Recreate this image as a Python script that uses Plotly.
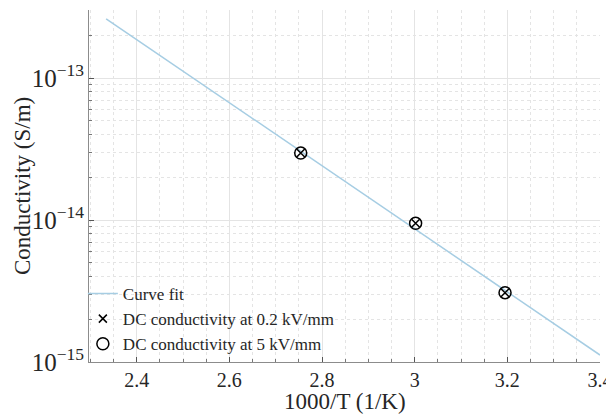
import plotly.graph_objects as go

# Arrhenius fit and measured DC conductivity
fit_x = [2.334, 3.4]
fit_y = [2.62e-13, 1.12e-15]
meas_x = [2.754, 3.002, 3.195]
cond_02 = [2.97e-14, 9.5e-15, 3.08e-15]
cond_5 = [2.97e-14, 9.5e-15, 3.08e-15]

FONT = "Liberation Serif"
TXT = "#262626"

fig = go.Figure()
fig.add_trace(
    go.Scatter(
        x=fit_x,
        y=fit_y,
        mode="lines",
        name="Curve fit",
        line=dict(color="#a6cde3", width=1.5),
    )
)
fig.add_trace(
    go.Scatter(
        x=meas_x,
        y=cond_02,
        mode="markers",
        name="DC conductivity at 0.2 kV/mm",
        marker=dict(symbol="x-thin", size=8, line=dict(color="black", width=1.5)),
    )
)
fig.add_trace(
    go.Scatter(
        x=meas_x,
        y=cond_5,
        mode="markers",
        name="DC conductivity at 5 kV/mm",
        marker=dict(symbol="circle-open", size=12, color="black", line=dict(width=1.5)),
    )
)

fig.update_xaxes(
    range=[2.297, 3.4],
    tick0=2.4,
    dtick=0.2,
    showline=True,
    linecolor="#8c8c8c",
    linewidth=1,
    ticks="inside",
    ticklen=5,
    tickcolor="#555555",
    showgrid=True,
    gridcolor="#e4e4e4",
    gridwidth=1,
    zeroline=False,
    minor=dict(
        tick0=2.4,
        dtick=0.05,
        ticks="inside",
        ticklen=3,
        tickcolor="#777777",
        showgrid=True,
        gridcolor="#e4e4e4",
        griddash="dot",
    ),
    tickfont=dict(family=FONT, size=20, color=TXT),
    ticklabeloverflow="allow",
    automargin=False,
)
fig.update_yaxes(
    type="log",
    range=[-15, -12.52],
    tick0=0,
    dtick=1,
    exponentformat="power",
    showline=True,
    linecolor="#8c8c8c",
    linewidth=1,
    ticks="inside",
    ticklen=5,
    tickcolor="#555555",
    showgrid=True,
    gridcolor="#e4e4e4",
    zeroline=False,
    minor=dict(
        dtick="D1",
        ticks="inside",
        ticklen=3,
        tickcolor="#777777",
        showgrid=True,
        gridcolor="#e4e4e4",
        griddash="dot",
    ),
    tickfont=dict(family=FONT, size=20, color=TXT),
    automargin=False,
)

# axis titles as annotations so they sit where the reference has them
fig.add_annotation(
    text="1000/T (1/K)",
    xref="paper",
    yref="paper",
    x=0.5,
    y=-0.111,
    xanchor="center",
    yanchor="middle",
    showarrow=False,
    font=dict(family=FONT, size=23, color=TXT),
)
fig.add_annotation(
    text="Conductivity (S/m)",
    xref="paper",
    yref="paper",
    x=-0.131,
    y=0.5,
    xanchor="center",
    yanchor="middle",
    textangle=-90,
    showarrow=False,
    font=dict(family=FONT, size=23, color=TXT),
)

# page body adds an 8px margin, so the figure is 8px smaller than the window
fig.update_layout(
    width=606,
    height=408,
    template="plotly_white",
    plot_bgcolor="white",
    paper_bgcolor="white",
    font=dict(family=FONT, color=TXT, size=20),
    margin=dict(l=81, r=14, t=2, b=54),
    showlegend=True,
    legend=dict(
        x=-0.012,
        y=0.0,
        xanchor="left",
        yanchor="bottom",
        bgcolor="rgba(255,255,255,0)",
        font=dict(family=FONT, size=17, color=TXT),
        tracegroupgap=0,
        itemwidth=30,
    ),
)

fig.write_html("out.html")
